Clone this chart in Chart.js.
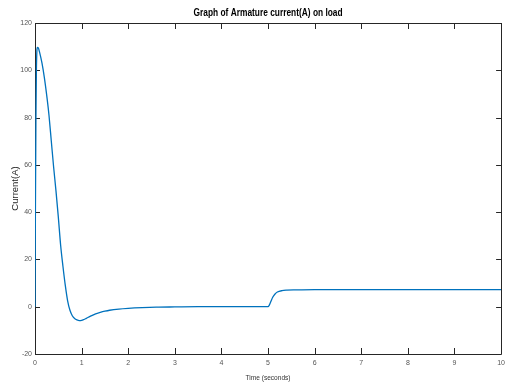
<!DOCTYPE html>
<html><head><meta charset="utf-8">
<script src="https://cdn.jsdelivr.net/npm/chart.js@4"></script>
<style>html,body{margin:0;padding:0;background:#fff}</style>
</head><body>
<canvas id="c" width="510" height="383" style="width:510px;height:383px;display:block"></canvas>
<script>
const timeSeconds = [0,0.005,0.01,0.02,0.03,0.04,0.05,0.07,0.1,0.15,0.2,0.26,0.3,0.35,0.4,0.45,0.5,0.55,0.6,0.65,0.7,0.75,0.8,0.85,0.9,0.95,1.0,1.05,1.1,1.2,1.3,1.4,1.5,1.6,1.8,2.0,2.3,2.6,3.0,3.5,4.0,4.5,5.0,5.03,5.06,5.1,5.15,5.2,5.3,5.4,5.6,6.0,7.0,8.0,9.0,10.0];
const currentA    = [0,25,45,80,100,108,109.7,109.5,107.5,103,97,88,81,70,59,49,38,26,17,9,2.5,-1.5,-3.8,-5.0,-5.6,-5.9,-5.8,-5.4,-4.9,-3.9,-3.0,-2.4,-1.9,-1.5,-1.0,-0.7,-0.4,-0.2,-0.1,0,0,0,0,0.8,2.2,4.0,5.4,6.2,6.8,7.0,7.1,7.2,7.2,7.2,7.2,7.2];
const xTicks = [0,1,2,3,4,5,6,7,8,9,10];
const yTicks = [-20,0,20,40,60,80,100,120];
const titleText = 'Graph of Armature current(A) on load';
const xLabel = 'Time (seconds)';
const yLabel = 'Current(A)';

const SANS = "'Liberation Sans',Arial,sans-serif";

function narrowText(ctx, text, cx, cy, font, color, sx) {
  ctx.save();
  ctx.font = font;
  ctx.fillStyle = color;
  ctx.textAlign = 'center';
  ctx.textBaseline = 'middle';
  ctx.translate(cx, cy);
  ctx.scale(sx, 1);
  ctx.fillText(text, 0, 0);
  ctx.restore();
}

const boxPlugin = {
  id: 'box',
  beforeDatasetsDraw(chart) {
    const {ctx, chartArea: a, scales: {x, y}} = chart;
    ctx.save();
    ctx.strokeStyle = '#262626';
    ctx.lineWidth = 1;
    ctx.beginPath();
    ctx.rect(Math.round(a.left) + 0.5, Math.round(a.top) + 0.5, Math.round(a.right - a.left), Math.round(a.bottom - a.top));
    xTicks.forEach(v => {
      const px = Math.round(x.getPixelForValue(v)) + 0.5;
      ctx.moveTo(px, a.bottom); ctx.lineTo(px, a.bottom - 6);
      ctx.moveTo(px, a.top); ctx.lineTo(px, a.top + 6);
    });
    yTicks.forEach(v => {
      const py = Math.round(y.getPixelForValue(v)) + 0.5;
      ctx.moveTo(a.left, py); ctx.lineTo(a.left + 5, py);
      ctx.moveTo(a.right, py); ctx.lineTo(a.right - 5, py);
    });
    ctx.stroke();
    ctx.restore();
  },
  afterDraw(chart) {
    const {ctx, chartArea: a} = chart;
    const cx = (a.left + a.right) / 2;
    narrowText(ctx, titleText, cx, 12.5, 'bold 11px ' + SANS, '#000', 0.76);
    narrowText(ctx, xLabel, cx, 377.5, '8px ' + SANS, '#333', 0.82);
  }
};

new Chart(document.getElementById('c'), {
  type: 'line',
  data: {
    datasets: [{
      data: timeSeconds.map((t, i) => ({x: t, y: currentA[i]})),
      borderColor: '#0072BD',
      borderWidth: 1.3,
      pointRadius: 0,
      fill: false,
      cubicInterpolationMode: 'monotone'
    }]
  },
  options: {
    responsive: false,
    devicePixelRatio: 1,
    animation: false,
    layout: {padding: {left: 0, right: 8, top: 23, bottom: 0}},
    plugins: {
      legend: {display: false},
      tooltip: {enabled: false},
      title: {display: false}
    },
    scales: {
      x: {
        type: 'linear', min: 0, max: 10,
        afterBuildTicks: s => { s.ticks = xTicks.map(v => ({value: v})); },
        ticks: {color: '#555', font: {family: SANS, size: 7}, padding: 5, maxRotation: 0, autoSkip: false},
        grid: {display: false, drawTicks: false},
        border: {display: false},
        afterFit: s => { s.height = 29; }
      },
      y: {
        type: 'linear', min: -20, max: 120,
        afterBuildTicks: s => { s.ticks = yTicks.map(v => ({value: v})); },
        ticks: {color: '#555', font: {family: SANS, size: 7}, padding: 3, autoSkip: false},
        grid: {display: false, drawTicks: false},
        border: {display: false},
        title: {display: true, text: yLabel, color: '#222', font: {family: SANS, size: 9.5}, padding: {top: 10, bottom: 0}},
        afterFit: s => { s.width = 35; }
      }
    }
  },
  plugins: [boxPlugin]
});
</script>
</body></html>
